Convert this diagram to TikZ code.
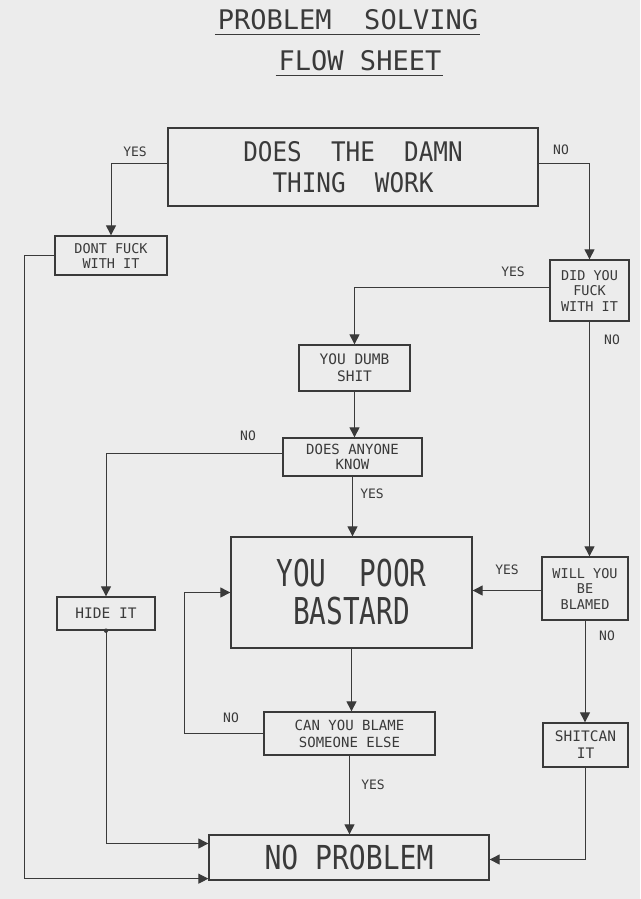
\documentclass[tikz,border=0pt]{standalone}
\usepackage{fontspec}
\usetikzlibrary{arrows.meta}
\newfontfamily\pf{DejaVu Sans Mono}
\newfontfamily\pfa{DejaVu Sans Mono}[FakeStretch=0.9]
\newfontfamily\pfb{DejaVu Sans Mono}[FakeStretch=0.75]
\newfontfamily\pfc{DejaVu Sans Mono}[FakeStretch=0.85]
\definecolor{paper}{HTML}{ECECEC}
\definecolor{ink}{HTML}{3A3A3A}
\tikzset{
  box/.style={draw=ink, line width=1.3pt, inner sep=0pt, align=center, text=ink},
  small/.style={box, font=\pf\fontsize{14.5}{17}\selectfont},
  lbl/.style={text=ink, font=\pf\fontsize{13}{15}\selectfont, inner sep=0pt},
  conn/.style={draw=ink, line width=1pt},
  arr/.style={conn, -{Triangle[width=10pt,length=10pt]}},
}
\begin{document}
\begin{tikzpicture}[x=1pt,y=-1pt]
\fill[paper] (0,0) rectangle (640,899);
\useasboundingbox (0,0) rectangle (640,899);
% title
\node[text=ink, font=\pf\fontsize{27}{30}\selectfont, inner sep=0pt] (t1) at (348,20) {PROBLEM\ \ SOLVING};
\node[text=ink, font=\pf\fontsize{27}{30}\selectfont, inner sep=0pt] (t2) at (360,61) {FLOW SHEET};
\draw[conn] ([xshift=-3pt,yshift=-4pt]t1.south west) -- ([xshift=2pt,yshift=-4pt]t1.south east);
\draw[conn] ([xshift=-3pt,yshift=-4pt]t2.south west) -- ([xshift=2pt,yshift=-4pt]t2.south east);
% boxes
\node[box, minimum width=370, minimum height=78, font=\pfa\fontsize{27}{31}\selectfont] (b1) at (353,167) {DOES\ \ THE\ \ DAMN\\THING\ \ WORK};
\node[small, minimum width=112, minimum height=39, font=\pf\fontsize{13.5}{15}\selectfont] (dont) at (111,255.5) {DONT FUCK\\WITH IT};
\node[small, minimum width=79, minimum height=61, font=\pf\fontsize{13.5}{15.5}\selectfont] (did) at (589.5,290.5) {DID YOU\\FUCK\\WITH IT};
\node[small, minimum width=111, minimum height=46] (dumb) at (354.5,368) {YOU DUMB\\SHIT};
\node[small, minimum width=139, minimum height=38, font=\pf\fontsize{14}{15}\selectfont] (know) at (352.5,457) {DOES ANYONE\\KNOW};
\node[box, minimum width=241, minimum height=111, font=\pfb\fontsize{37}{38}\selectfont] (ypb) at (351.5,592.5) {YOU\ \ POOR\\BASTARD};
\node[small, minimum width=86, minimum height=63, font=\pf\fontsize{13.5}{15.5}\selectfont] (will) at (585,588.5) {WILL YOU\\BE\\BLAMED};
\node[small, minimum width=98, minimum height=33] (hide) at (106,613.5) {HIDE IT};
\node[small, minimum width=171, minimum height=43, font=\pf\fontsize{14}{17}\selectfont] (blame) at (349.5,733.5) {CAN YOU BLAME\\SOMEONE ELSE};
\node[small, minimum width=85, minimum height=44] (shit) at (585.5,745) {SHITCAN\\IT};
\node[box, minimum width=280, minimum height=45, font=\pfc\fontsize{33}{35}\selectfont] (nop) at (349,857.5) {NO PROBLEM};
% connectors
\draw[arr] ([yshift=4pt]b1.west) -| (dont.north);
\draw[arr] ([yshift=4pt]b1.east) -| (did.north);
\draw[conn] (dont.west) -- ++(-30,0) coordinate (dl);
\draw[arr] (dl) |- ([yshift=2pt]nop.south west);
\draw[arr] ([yshift=3pt]did.west) -| (dumb.north);
\draw[arr] (did.south) -- (did.south |- will.north);
\draw[arr] (dumb.south) -- (dumb.south |- know.north);
\draw[arr] ([yshift=4pt]know.west) -| (hide.north);
\draw[arr] (know.south) -- (know.south |- ypb.north);
\draw[arr] ([yshift=-2pt]will.west) -- ([yshift=-2pt]ypb.east |- will.west);
\draw[arr] (will.south) -- (will.south |- shit.north);
\draw[arr] (shit.south) |- ([yshift=-2pt]nop.east);
\fill[ink] (hide.south) circle (2.2pt);
\draw[arr] (hide.south) |- ([yshift=14pt]nop.west);
\draw[arr] (ypb.south) -- (ypb.south |- blame.north);
\draw[conn] (blame.west) -- ++(-79,0) coordinate (bl);
\draw[arr] (bl) |- (ypb.west);
\draw[arr] (blame.south) -- (blame.south |- nop.north);
% labels
\node[lbl] (l1) at (135,152) {YES};
\node[lbl] (l2) at (561,150) {NO};
\node[lbl] (l3) at (513,272) {YES};
\node[lbl] (l4) at (612,340) {NO};
\node[lbl] (l5) at (248,436) {NO};
\node[lbl] (l6) at (372,494) {YES};
\node[lbl] (l7) at (507,570) {YES};
\node[lbl] (l8) at (607,636) {NO};
\node[lbl] (l9) at (231,718) {NO};
\node[lbl] (l10) at (373,785) {YES};
\end{tikzpicture}
\end{document}
